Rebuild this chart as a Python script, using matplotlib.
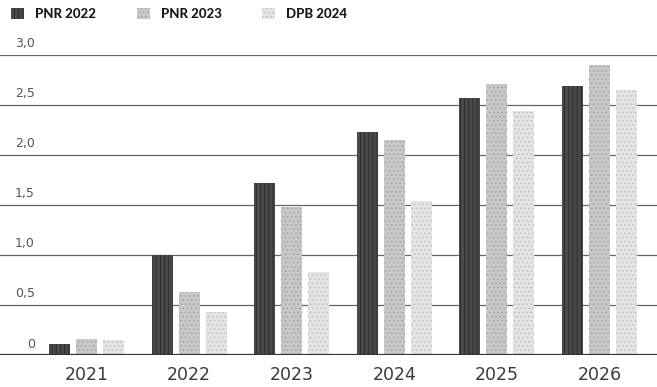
import numpy as np
import matplotlib.pyplot as plt
from matplotlib.patches import Rectangle

# data
years = ['2021', '2022', '2023', '2024', '2025', '2026']
pnr_2022 = [0.11, 1.00, 1.72, 2.23, 2.57, 2.69]
pnr_2023 = [0.16, 0.63, 1.48, 2.15, 2.71, 2.90]
dpb_2024 = [0.15, 0.43, 0.83, 1.54, 2.44, 2.65]
series_names = ['PNR 2022', 'PNR 2023', 'DPB 2024']
y_ticks = [0, 0.5, 1.0, 1.5, 2.0, 2.5, 3.0]

plt.rcParams['font.family'] = ['Lato', 'DejaVu Sans']
plt.rcParams['hatch.linewidth'] = 0.6

W, H = 657, 387
fig = plt.figure(figsize=(W / 100, H / 100), dpi=100)
ax = fig.add_axes([0, 32 / H, 1, 300 / H])

styles = [
    dict(color='#4a4a4a', hatch='||||', edgecolor='#2a2a2a'),
    dict(color='#c8c8c8', hatch='....', edgecolor='#a0a0a0'),
    dict(color='#e4e4e4', hatch='....', edgecolor='#bcbcbc'),
]

x = np.arange(len(years))
width = 0.205
offset = 0.263
for k, vals in enumerate([pnr_2022, pnr_2023, dpb_2024]):
    st = styles[k]
    ax.bar(x + (k - 1) * offset, vals, width, color=st['color'],
           hatch=st['hatch'], edgecolor=st['edgecolor'], linewidth=0,
           zorder=3)

ax.set_xlim(-86.5 / 102.6, (W - 86.5) / 102.6)
ax.set_ylim(0, 3.0)

# gridlines and y labels
for v in y_ticks:
    if v == 0:
        ax.axhline(v, color='#333333', lw=1.6, zorder=4)
    else:
        ax.axhline(v, color='#666666', lw=0.9, zorder=2)
    lab = '0' if v == 0 else f'{v:.1f}'.replace('.', ',')
    ax.text(35 / W, v + 0.045, lab, transform=ax.get_yaxis_transform(),
            ha='right', va='bottom', fontsize=9, color='#555555',
            family='DejaVu Sans')

ax.axis('off')

# year labels
for i, yr in enumerate(years):
    ax.text(i, -0.2, yr, ha='center', va='center', fontsize=12.5,
            color='#3a3a3a', clip_on=False, family='DejaVu Sans')

# legend
leg_x = [11, 137, 262]
for k, name in enumerate(series_names):
    st = styles[k]
    fig.patches.append(Rectangle((leg_x[k] / W, 1 - 19 / H), 13 / W, 11 / H,
                                 transform=fig.transFigure,
                                 facecolor=st['color'], hatch=st['hatch'],
                                 edgecolor=st['edgecolor'], linewidth=0))
    fig.text((leg_x[k] + 24) / W, 1 - 13.5 / H, name, ha='left', va='center',
             fontsize=9.5, fontweight='black', color='#1a1a1a')

fig.savefig('out.png', dpi=100)
